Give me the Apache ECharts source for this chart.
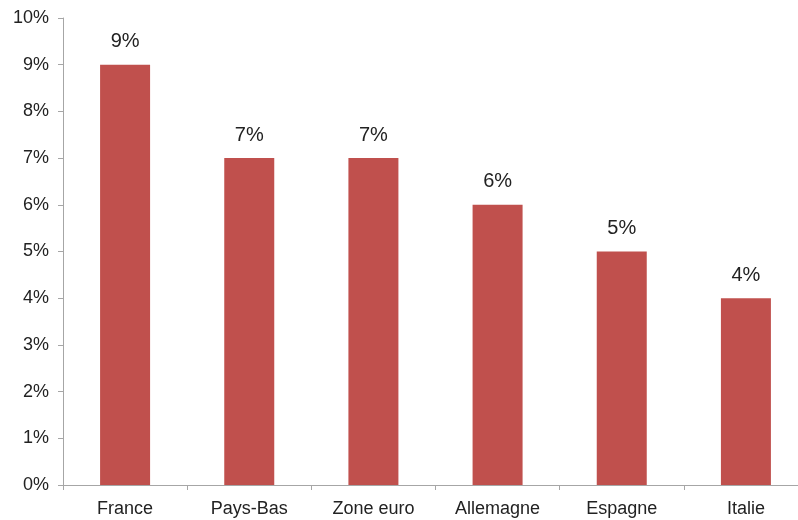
<!DOCTYPE html>
<html>
<head>
<meta charset="utf-8">
<script src="https://cdn.jsdelivr.net/npm/echarts@6/dist/echarts.min.js"></script>
<style>
  html, body { margin: 0; padding: 0; background: #fff; overflow: hidden; }
  #chart { width: 808px; height: 520px; }
</style>
</head>
<body>
<div id="chart"></div>
<script>
const countries = ['France', 'Pays-Bas', 'Zone euro', 'Allemagne', 'Espagne', 'Italie'];
const shares = [9, 7, 7, 6, 5, 4];
const yTicks = [0, 10, 1]; // min, max, interval (%)

const chart = echarts.init(document.getElementById('chart'));

const option = {
  animation: false,
  grid: {
    left: 63,
    top: 18,
    right: 0,
    bottom: 35
  },
  xAxis: {
    type: 'category',
    data: countries,
    axisLine: { lineStyle: { color: '#a6a6a6', width: 1 } },
    axisTick: { show: true, length: 5, lineStyle: { color: '#a6a6a6' } },
    axisLabel: {
      color: '#222',
      fontFamily: 'Liberation Sans, Arial, sans-serif',
      fontSize: 18,
      margin: 15
    }
  },
  yAxis: {
    type: 'value',
    min: yTicks[0],
    max: yTicks[1],
    interval: yTicks[2],
    splitLine: { show: false },
    axisLine: { show: true, lineStyle: { color: '#a6a6a6', width: 1 } },
    axisTick: { show: true, length: 5, lineStyle: { color: '#a6a6a6' } },
    axisLabel: {
      color: '#222',
      fontFamily: 'Liberation Sans, Arial, sans-serif',
      fontSize: 18,
      margin: 14,
      formatter: '{value}%'
    }
  },
  series: [
    {
      type: 'bar',
      data: shares,
      barWidth: 50,
      itemStyle: { color: '#c0504d' },
      label: {
        show: true,
        position: 'top',
        distance: 13,
        color: '#222',
        fontFamily: 'Liberation Sans, Arial, sans-serif',
        fontSize: 20,
        formatter: '{c}%'
      }
    }
  ]
};

chart.setOption(option);
</script>
</body>
</html>
